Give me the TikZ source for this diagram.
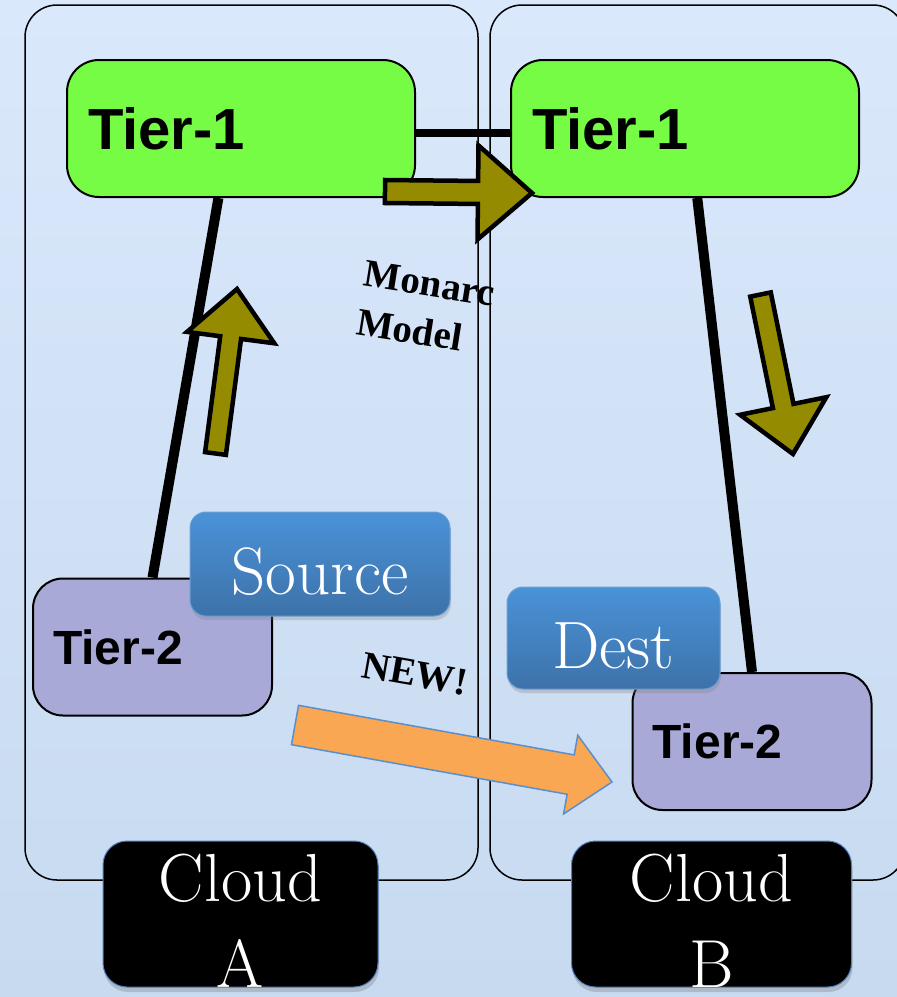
\documentclass[tikz,border=0pt]{standalone}
\usepackage{fontspec}
\newfontfamily\tierfont{Liberation Sans}
\newfontfamily\notefont{Liberation Serif}
\usetikzlibrary{calc,positioning,shadows}

\definecolor{bgtop}{HTML}{DAE8FB}
\definecolor{bgbot}{HTML}{C7DAF0}
\definecolor{tiergreen}{HTML}{77FC45}
\definecolor{tierpurple}{HTML}{A9A9D8}
\definecolor{olivefill}{HTML}{948B00}
\definecolor{orangefill}{HTML}{F9A752}
\definecolor{orangeline}{HTML}{5B8FCB}
\definecolor{tagtop}{HTML}{4A92D8}
\definecolor{tagbot}{HTML}{3D72A9}
\definecolor{tagline}{HTML}{6C9FD4}
\definecolor{cloudline}{HTML}{4F81BD}

% block arrow: [style]{tail}{tip}{shaft half width}{head half width}{head length}
\newcommand{\fatarrow}[6][]{%
  \coordinate (fa-h) at ($(#3)!#6!(#2)$);
  \filldraw[#1] ($(#2)!#4!90:(#3)$) -- ($(fa-h)!#4!90:(#3)$) -- ($(fa-h)!#5!90:(#3)$) -- (#3)
    -- ($(fa-h)!#5!-90:(#3)$) -- ($(fa-h)!#4!-90:(#3)$) -- ($(#2)!#4!-90:(#3)$) -- cycle;}

\begin{document}
\begin{tikzpicture}[x=1pt, y=-1pt,
    container/.style={draw=black, line width=1.5pt, rounded corners=32pt},
    tier1/.style={draw=black, line width=2pt, fill=tiergreen, rounded corners=32pt,
      minimum height=137pt, text width=306pt, inner xsep=21pt, align=left,
      font=\tierfont\bfseries\fontsize{58}{60}\selectfont},
    tier2/.style={draw=black, line width=2pt, fill=tierpurple, rounded corners=30pt,
      minimum height=137pt, text width=199pt, inner xsep=20pt, align=left,
      font=\tierfont\bfseries\fontsize{48}{50}\selectfont},
    link/.style={draw=black, line width=10pt},
    olivearrow/.style={fill=olivefill, draw=black, line width=4.5pt, line join=miter},
    newarrow/.style={fill=orangefill, draw=orangeline, line width=1.5pt, line join=miter},
    tag/.style={draw=tagline, line width=1pt, top color=tagtop, bottom color=tagbot,
      rounded corners=16pt, text=white, text height=60pt, text depth=0pt,
      font=\fontsize{67}{70}\selectfont,
      drop shadow={opacity=0.3, shadow xshift=1pt, shadow yshift=-4pt}},
    cloudbox/.style={fill=black, draw=cloudline, line width=1pt, rounded corners=24pt,
      minimum height=146pt,
      drop shadow={opacity=0.35, shadow xshift=1pt, shadow yshift=-5pt}},
    cloudtext/.style={text=white, align=center, inner sep=0pt,
      font=\fontsize{68}{86}\selectfont},
    note/.style={font=\notefont\bfseries\fontsize{39}{49}\selectfont, align=left}]

  \useasboundingbox (0,0) rectangle (897,997);
  \clip (0,0) rectangle (897,997);
  \fill[top color=bgtop, bottom color=bgbot] (0,0) rectangle (897,997);

  % the two clouds
  \draw[container] (25,5) rectangle (478,880);
  \draw[container] (490,5) rectangle (905,880);

  \node[tier1] (t1a) at (241,128.5) {Tier-1};
  \node[tier1] (t1b) at (685,128.5) {Tier-1};
  \node[tier2] (t2a) at (152.5,647) {Tier-2};
  \node[tier2] (t2b) at (752,741.5) {Tier-2};

  \draw[link, line width=8pt] ([yshift=-4.5pt]t1a.east) -- ([yshift=-4.5pt]t1b.west);
  \draw[link] (t1a.-108) -- (t2a.north);
  \draw[link] (t1b.-80) -- (t2b.north);

  % monarc flows
  \coordinate (acrossTail) at (385,191.5);
  \coordinate (acrossTip) at (532,193);
  \coordinate (upTail) at (215.5,453.5);
  \coordinate (upTip) at (237,289);
  \coordinate (downTail) at (760.5,294.5);
  \coordinate (downTip) at (793,454);
  \fatarrow[olivearrow]{acrossTail}{acrossTip}{11.5pt}{47pt}{54pt}
  \fatarrow[olivearrow]{upTail}{upTip}{10.5pt}{44pt}{49pt}
  \fatarrow[olivearrow]{downTail}{downTip}{10.5pt}{44pt}{49pt}

  \node[note, rotate=-9] (monarc) at (426,308) {Monarc\\Model};
  \node[note, rotate=-10] (new) at (415,674) {NEW!};

  \node[tag, minimum width=260pt, minimum height=104pt] (src) at (320,564) {Source};
  \node[tag, minimum width=213pt, minimum height=102pt] (dst) at (613.5,638) {Dest};

  % new direct transfer
  \coordinate (newTail) at (295,725);
  \coordinate (newTip) at (612,782);
  \fatarrow[newarrow]{newTail}{newTip}{20pt}{40pt}{42pt}

  \node[cloudbox, minimum width=275pt] (cldA) at (240.5,914) {};
  \node[cloudbox, minimum width=280pt] (cldB) at (711.5,914) {};
  \node[cloudtext] (cldAtxt) at ($(cldA)+(0,6.5)$) {Cloud\\A};
  \node[cloudtext] (cldBtxt) at ($(cldB)+(0,6.5)$) {Cloud\\B};
\end{tikzpicture}
\end{document}
